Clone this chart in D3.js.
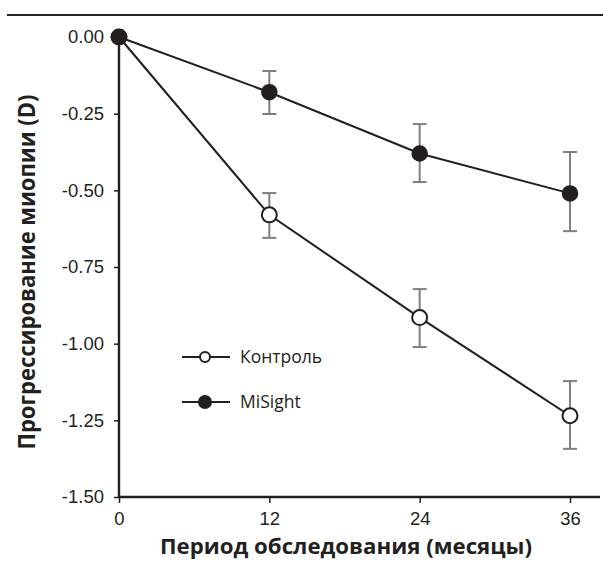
<!DOCTYPE html>
<html><head><meta charset="utf-8">
<script src="https://cdn.jsdelivr.net/npm/d3@7/dist/d3.min.js"></script>
<style>body{margin:0;background:#fff}svg{display:block}</style>
</head><body>
<svg id="c" width="603" height="561"></svg>
<script>
const months = [0, 12, 24, 36];
const xTicks = [0, 12, 24, 36];
const yTicks = [0, -0.25, -0.5, -0.75, -1.0, -1.25, -1.5];
const yTickLabels = ["0.00", "-0.25", "-0.50", "-0.75", "-1.00", "-1.25", "-1.50"];
const controlMean = [0, -0.58, -0.915, -1.235];
const controlLow = [0, -0.655, -1.011, -1.343];
const controlHigh = [0, -0.509, -0.822, -1.122];
const misightMean = [0, -0.18, -0.38, -0.51];
const misightLow = [0, -0.251, -0.473, -0.633];
const misightHigh = [0, -0.111, -0.284, -0.375];
const seriesNames = ["Контроль", "MiSight"];

const svg = d3.select("#c");
const x = d3.scaleLinear().domain([0, 36]).range([119, 570]);
const y = d3.scaleLinear().domain([0, -1.5]).range([37, 497]);

// top rule
svg.append("line").attr("x1", 7).attr("x2", 603).attr("y1", 15).attr("y2", 15)
  .attr("stroke", "#231f20").attr("stroke-width", 2.2);

// axes
const yAxis = d3.axisLeft(y).tickValues(yTicks).tickFormat((d, i) => yTickLabels[i]).tickSize(5).tickPadding(10);
const gy = svg.append("g").attr("transform", "translate(119,0)").call(yAxis);
gy.select(".domain").attr("d", `M0,${y(0)}V${y(-1.5)}`);
const xAxis = d3.axisBottom(x).tickValues(xTicks).tickSize(6).tickPadding(9);
const gx = svg.append("g").attr("transform", "translate(0,497)").call(xAxis);
gx.select(".domain").attr("d", `M119,0H600`);
[gx, gy].forEach(g => {
  g.selectAll(".domain").attr("stroke", "#231f20").attr("stroke-width", 2.4);
  g.selectAll(".tick line").attr("stroke", "#231f20").attr("stroke-width", 1.5);
  g.selectAll("text").attr("font-family", "Liberation Sans, Arial, sans-serif").attr("font-size", 18.5).attr("fill", "#231f20");
});

function series(mean, low, high) {
  const pts = months.map((m, i) => ({m, v: mean[i], lo: low[i], hi: high[i]}));
  const eb = svg.append("g").attr("stroke", "#7f7f7f").attr("stroke-width", 2);
  pts.filter(p => p.lo !== p.hi).forEach(p => {
    eb.append("line").attr("x1", x(p.m)).attr("x2", x(p.m)).attr("y1", y(p.hi)).attr("y2", y(p.lo));
    eb.append("line").attr("x1", x(p.m) - 7).attr("x2", x(p.m) + 7).attr("y1", y(p.hi)).attr("y2", y(p.hi));
    eb.append("line").attr("x1", x(p.m) - 7).attr("x2", x(p.m) + 7).attr("y1", y(p.lo)).attr("y2", y(p.lo));
  });
  svg.append("path").datum(pts)
    .attr("d", d3.line().x(p => x(p.m)).y(p => y(p.v)))
    .attr("fill", "none").attr("stroke", "#231f20").attr("stroke-width", 2);
  return pts;
}
const cp = series(controlMean, controlLow, controlHigh);
const mp = series(misightMean, misightLow, misightHigh);
svg.append("g").selectAll("circle").data(cp).join("circle")
  .attr("cx", p => x(p.m)).attr("cy", p => y(p.v)).attr("r", 7.5)
  .attr("fill", "#fff").attr("stroke", "#231f20").attr("stroke-width", 2);
svg.append("g").selectAll("circle").data(mp).join("circle")
  .attr("cx", p => x(p.m)).attr("cy", p => y(p.v)).attr("r", 7.5)
  .attr("fill", "#231f20").attr("stroke", "#231f20").attr("stroke-width", 1.5);

// legend
const leg = svg.append("g");
seriesNames.forEach((name, i) => {
  const ly = 357 + i * 45;
  leg.append("line").attr("x1", 182).attr("x2", 230).attr("y1", ly).attr("y2", ly)
    .attr("stroke", "#231f20").attr("stroke-width", 2);
  leg.append("circle").attr("cx", 205).attr("cy", ly).attr("r", i === 0 ? 5 : 6)
    .attr("fill", i === 0 ? "#fff" : "#231f20").attr("stroke", "#231f20").attr("stroke-width", 2);
  leg.append("text").attr("x", 240).attr("y", ly + 6).text(name)
    .attr("font-family", "Open Sans, sans-serif").attr("font-size", 17.5).attr("fill", "#231f20");
});

// titles
svg.append("text").attr("x", 346).attr("y", 554).attr("text-anchor", "middle")
  .attr("font-family", "Open Sans, sans-serif").attr("font-weight", 700).attr("font-size", 22)
  .attr("textLength", 372).attr("lengthAdjust", "spacingAndGlyphs")
  .attr("fill", "#231f20").text("Период обследования (месяцы)");
svg.append("text").attr("transform", "translate(35,272) rotate(-90)").attr("text-anchor", "middle")
  .attr("font-family", "Open Sans, sans-serif").attr("font-weight", 700).attr("font-size", 24)
  .attr("textLength", 355).attr("lengthAdjust", "spacingAndGlyphs")
  .attr("fill", "#231f20").text("Прогрессирование миопии (D)");
</script>
</body></html>
